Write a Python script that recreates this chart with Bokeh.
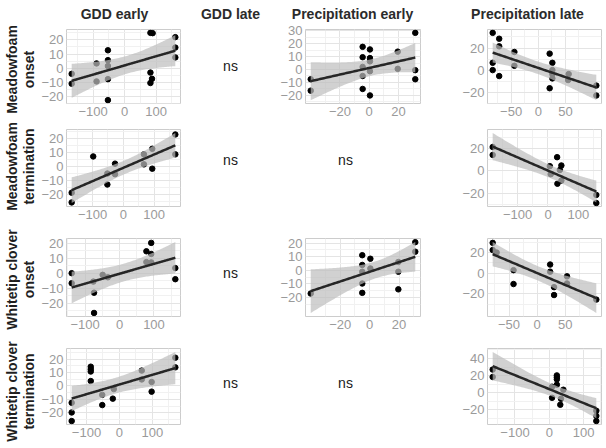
import numpy as np
from bokeh.plotting import figure
from bokeh.layouts import row, column
from bokeh.models import Range1d, FixedTicker, Label, CustomJSTickFormatter
from bokeh.embed import file_html
from bokeh.resources import INLINE

# ---------------- text ----------------
col_titles = ["GDD early", "GDD late", "Precipitation early", "Precipitation late"]
row_titles = [("Meadowfoam", "onset"), ("Meadowfoam", "termination"),
              ("Whitetip clover", "onset"), ("Whitetip clover", "termination")]
ns_text = "ns"

# ---------------- data ----------------
# Meadowfoam onset
mo_gdd_x = [-168, -168, -89, -89, -53, -53, -53, -53, -53, 82, 89, 82, 87, 82, 161, 161, 161]
mo_gdd_y = [-3.9, -10.8, 3.4, -9.2, 12.6, 5.7, 1.6, -7.6, -22.3, 24.8, 24.6, -3.0, -7.4, -10.3, 21.8, 14.5, 7.6]
mo_pe_x = [-40, -40, -4.5, -4.5, -4.5, -4.5, -4.5, 0.5, 0.5, 0.5, 0.5, 0.5, 19.5, 19.5, 31.5, 31.5, 31.5]
mo_pe_y = [-7.5, -16.3, 17.5, 9.5, 2.0, -5.0, -15.0, 15.5, 8.8, 6.3, -1.3, -20.0, 13.8, 0.5, 28.3, -0.5, -7.5]
mo_pl_x = [-84, -84, -84, -72, -72, -72, -44, -44, 21, 21, 26, 26, 26, 26, 56, 55, 107, 107]
mo_pl_y = [33.7, 6.6, 0.0, 28.4, 21.5, -5.4, 16.4, 3.9, 14.9, -16.4, 6.6, 0.0, -3.6, -7.5, -3.6, -9.0, -14.0, -23.0]
# Meadowfoam termination
mt_gdd_x = [-168, -168, -98, -52, -52, -27, -27, 67, 67, 94, 94, 169, 169]
mt_gdd_y = [-19.0, -26.0, 7.1, -5.2, -13.1, 1.9, -5.7, 8.6, 1.4, 12.6, -1.7, 22.9, 8.6]
mt_pl_x = [-182, -182, 6, 9, 30, 39, 44, 31, 44, 159, 159]
mt_pl_y = [21.4, 14.3, 4.3, -2.9, 12.3, 0.9, 4.9, -11.4, -8.6, -21.4, -28.6]
# Whitetip clover onset
wo_gdd_x = [-139, -139, -76, -74, -74, -49, -34, 78, 78, 92, 92, 92, 162, 162]
wo_gdd_y = [0.0, -6.7, -5.6, -13.0, -26.5, -1.1, -2.7, 7.4, 14.6, 20.2, 12.8, 7.2, 3.4, -4.0]
wo_pe_x = [-40, -5, -5, -5, -5, -5, 0.5, 0.5, 19.5, 19.5, 19.5, 31, 31]
wo_pe_y = [-17.2, 11.1, 3.9, -1.1, -9.8, -16.7, 8.5, 1.3, 6.1, -1.1, -14.1, 20.7, 13.7]
wo_pl_x = [-79, -79, -72, -42, -42, 23, 23, 30, 30, 53, 53, 105]
wo_pl_y = [29.3, 22.4, 20.0, 3.0, -10.4, 8.4, 1.5, -13.4, -21.0, -3.0, -9.9, -25.4]
# Whitetip clover termination
wt_gdd_x = [-145, -145, -145, -87, -87, -87, -87, -52, -52, -20, -17, 68, 68, 98, 98, 170, 170]
wt_gdd_y = [-12.6, -19.8, -26.2, 14.3, 12.4, 10.7, 3.6, -6.7, -14.3, -9.5, -2.4, 11.4, 4.8, 2.9, -4.3, 21.0, 13.8]
wt_pl_x = [-165, -165, 8, 8, 22, 22, 22, 22, 34, 32, 41, 137, 137, 137]
wt_pl_y = [27.0, 18.4, 7.0, -5.9, 20.2, 18.0, 15.6, 9.4, -7.0, -14.0, 3.5, -21.0, -27.0, -33.0]

# ---------------- tick values ----------------
xticks_gdd = [-100, 0, 100]
xticks_pe = [-20, 0, 20]
xticks_pl50 = [-50, 0, 50]
xticks_pl100 = [-100, 0, 100]
yticks_10 = [-20, -10, 0, 10, 20]
yticks_10b = [-20, -10, 0, 10, 20, 30]
yticks_20 = [-20, 0, 20]
yticks_20b = [-20, 0, 20, 40]

panels = {
    (0, 0): (mo_gdd_x, mo_gdd_y, xticks_gdd, yticks_10),
    (0, 2): (mo_pe_x, mo_pe_y, xticks_pe, yticks_10b),
    (0, 3): (mo_pl_x, mo_pl_y, xticks_pl50, yticks_20),
    (1, 0): (mt_gdd_x, mt_gdd_y, xticks_gdd, yticks_10),
    (1, 3): (mt_pl_x, mt_pl_y, xticks_pl100, yticks_20),
    (2, 0): (wo_gdd_x, wo_gdd_y, xticks_gdd, yticks_10),
    (2, 2): (wo_pe_x, wo_pe_y, xticks_pe, yticks_10),
    (2, 3): (wo_pl_x, wo_pl_y, xticks_pl50, yticks_20),
    (3, 0): (wt_gdd_x, wt_gdd_y, xticks_gdd, yticks_10),
    (3, 3): (wt_pl_x, wt_pl_y, xticks_pl100, yticks_20b),
}

# ---------------- layout geometry (pixels) ----------------
W, H = 606, 448
LABEL_W = 38
HEADER_H = 22
ROW_TOP = [22, 123, 232, 341]
ROW_H = [101, 109, 109, 107]
FRAME_TOP = [7, 6, 6, 7]
FRAME_H = [74, 77, 78, 76]
COL_X = [38, 190, 270, 440]
COL_W = [152, 80, 170, 166]
FRAME_L = [26, 0, 35, 47]
FRAME_W = [116, 0, 115, 114]
TITLE_X = [114, 230, 352, 527]
TITLE_BASE = 13
ROWLAB_Y = [69, 166, 279, 391]
ROWLAB_X = [11, 28.5]
NS_Y = [68, 163, 277, 386]
NS_X = {1: 230, 2: 345}

FONT = "Liberation Sans"
T975 = {9: 2.262, 10: 2.228, 11: 2.201, 12: 2.179, 13: 2.160, 14: 2.145, 15: 2.131,
        16: 2.120, 17: 2.110, 18: 2.101, 19: 2.093, 20: 2.086}

fmt = CustomJSTickFormatter(code="return tick < 0 ? '\\u2212' + (-tick) : String(tick);")


def minors(t):
    s = t[1] - t[0]
    return [t[0] - s * 1.5] + [v - s / 2 for v in t] + [t[-1] + s / 2]


def blank(width, height, xr, yr):
    p = figure(width=width, height=height, x_range=Range1d(*xr), y_range=Range1d(*yr),
               x_axis_location=None, y_axis_location=None, min_border=0,
               output_backend="svg", toolbar_location=None)
    p.grid.visible = False
    p.outline_line_color = None
    p.background_fill_color = "white"
    p.border_fill_color = "white"
    return p


def make_panel(r, c, xs, ys, xt, yt):
    x = np.asarray(xs, float)
    y = np.asarray(ys, float)
    n = len(x)
    b1, b0 = np.polyfit(x, y, 1)
    gx = np.linspace(x.min(), x.max(), 80)
    fit = b0 + b1 * gx
    resid = y - (b0 + b1 * x)
    s = np.sqrt((resid ** 2).sum() / (n - 2))
    sxx = ((x - x.mean()) ** 2).sum()
    se = s * np.sqrt(1.0 / n + (gx - x.mean()) ** 2 / sxx)
    t = T975[n - 2]
    lo, hi = fit - t * se, fit + t * se
    xpad = 0.05 * (x.max() - x.min())
    ymin = min(y.min(), lo.min())
    ymax = max(y.max(), hi.max())
    ypad = 0.05 * (ymax - ymin)
    p = figure(width=COL_W[c], height=ROW_H[r],
               x_range=Range1d(x.min() - xpad, x.max() + xpad),
               y_range=Range1d(ymin - ypad, ymax + ypad),
               min_border_left=FRAME_L[c],
               min_border_right=COL_W[c] - FRAME_L[c] - FRAME_W[c],
               min_border_top=FRAME_TOP[r],
               min_border_bottom=ROW_H[r] - FRAME_TOP[r] - FRAME_H[r],
               output_backend="svg", toolbar_location=None)
    p.background_fill_color = "white"
    p.border_fill_color = "white"
    p.outline_line_color = "#cccccc"
    p.outline_line_width = 1
    xtk = FixedTicker(ticks=xt, minor_ticks=minors(xt))
    ytk = FixedTicker(ticks=yt, minor_ticks=minors(yt))
    p.xaxis.ticker = xtk
    p.yaxis.ticker = ytk
    p.xgrid.ticker = xtk
    p.ygrid.ticker = ytk
    for g in (p.xgrid, p.ygrid):
        g.grid_line_color = "#e4e4e4"
        g.grid_line_width = 1
        g.minor_grid_line_color = "#f1f1f1"
        g.minor_grid_line_width = 1
    for ax in (p.xaxis[0], p.yaxis[0]):
        ax.formatter = fmt
        ax.axis_line_color = None
        ax.major_tick_line_color = None
        ax.minor_tick_line_color = None
        ax.major_tick_out = 0
        ax.major_tick_in = 0
        ax.minor_tick_out = 0
        ax.minor_tick_in = 0
        ax.major_label_text_font = FONT
        ax.major_label_text_font_size = "13px"
        ax.major_label_text_color = "#9a9a9a"
    p.xaxis.major_label_standoff = 3
    p.yaxis.major_label_standoff = 3
    p.scatter(x, y, size=5.5, fill_color="black", line_color="black")
    p.varea(x=gx, y1=lo, y2=hi, fill_color="#bebebe", fill_alpha=0.7)
    p.line(gx, fit, line_color="#262626", line_width=2.5)
    return p


# ---------------- header ----------------
header = blank(W - LABEL_W, HEADER_H, (LABEL_W, W), (H - HEADER_H, H))
for i, t in enumerate(col_titles):
    header.add_layout(Label(x=TITLE_X[i], y=H - TITLE_BASE, text=t, text_align="center",
                            text_baseline="alphabetic", text_font=FONT, text_font_style="bold",
                            text_font_size="14px", text_color="#2b2b2b"))

# ---------------- row labels ----------------
labfig = blank(LABEL_W, H, (0, LABEL_W), (0, H))
for r, lines in enumerate(row_titles):
    for k, txt in enumerate(lines):
        labfig.add_layout(Label(x=ROWLAB_X[k], y=H - ROWLAB_Y[r], text=txt, angle=np.pi / 2,
                                text_align="center", text_baseline="alphabetic", text_font=FONT,
                                text_font_style="bold", text_font_size="14px", text_color="#1f1f1f"))

# ---------------- rows ----------------
rows = [header]
for r in range(4):
    figs = []
    for c in range(4):
        if (r, c) in panels:
            figs.append(make_panel(r, c, *panels[(r, c)]))
        else:
            top = ROW_TOP[r]
            p = blank(COL_W[c], ROW_H[r], (COL_X[c], COL_X[c] + COL_W[c]),
                      (H - top - ROW_H[r], H - top))
            p.add_layout(Label(x=NS_X[c], y=H - NS_Y[r] - 3.5, text=ns_text, text_align="center",
                               text_baseline="alphabetic", text_font=FONT,
                               text_font_size="14px", text_color="#1a1a1a"))
            figs.append(p)
    rows.append(row(*figs, spacing=0))

layout = row(labfig, column(*rows, spacing=0), spacing=0)

open("out.html", "w", encoding="utf-8").write(file_html(layout, INLINE))
